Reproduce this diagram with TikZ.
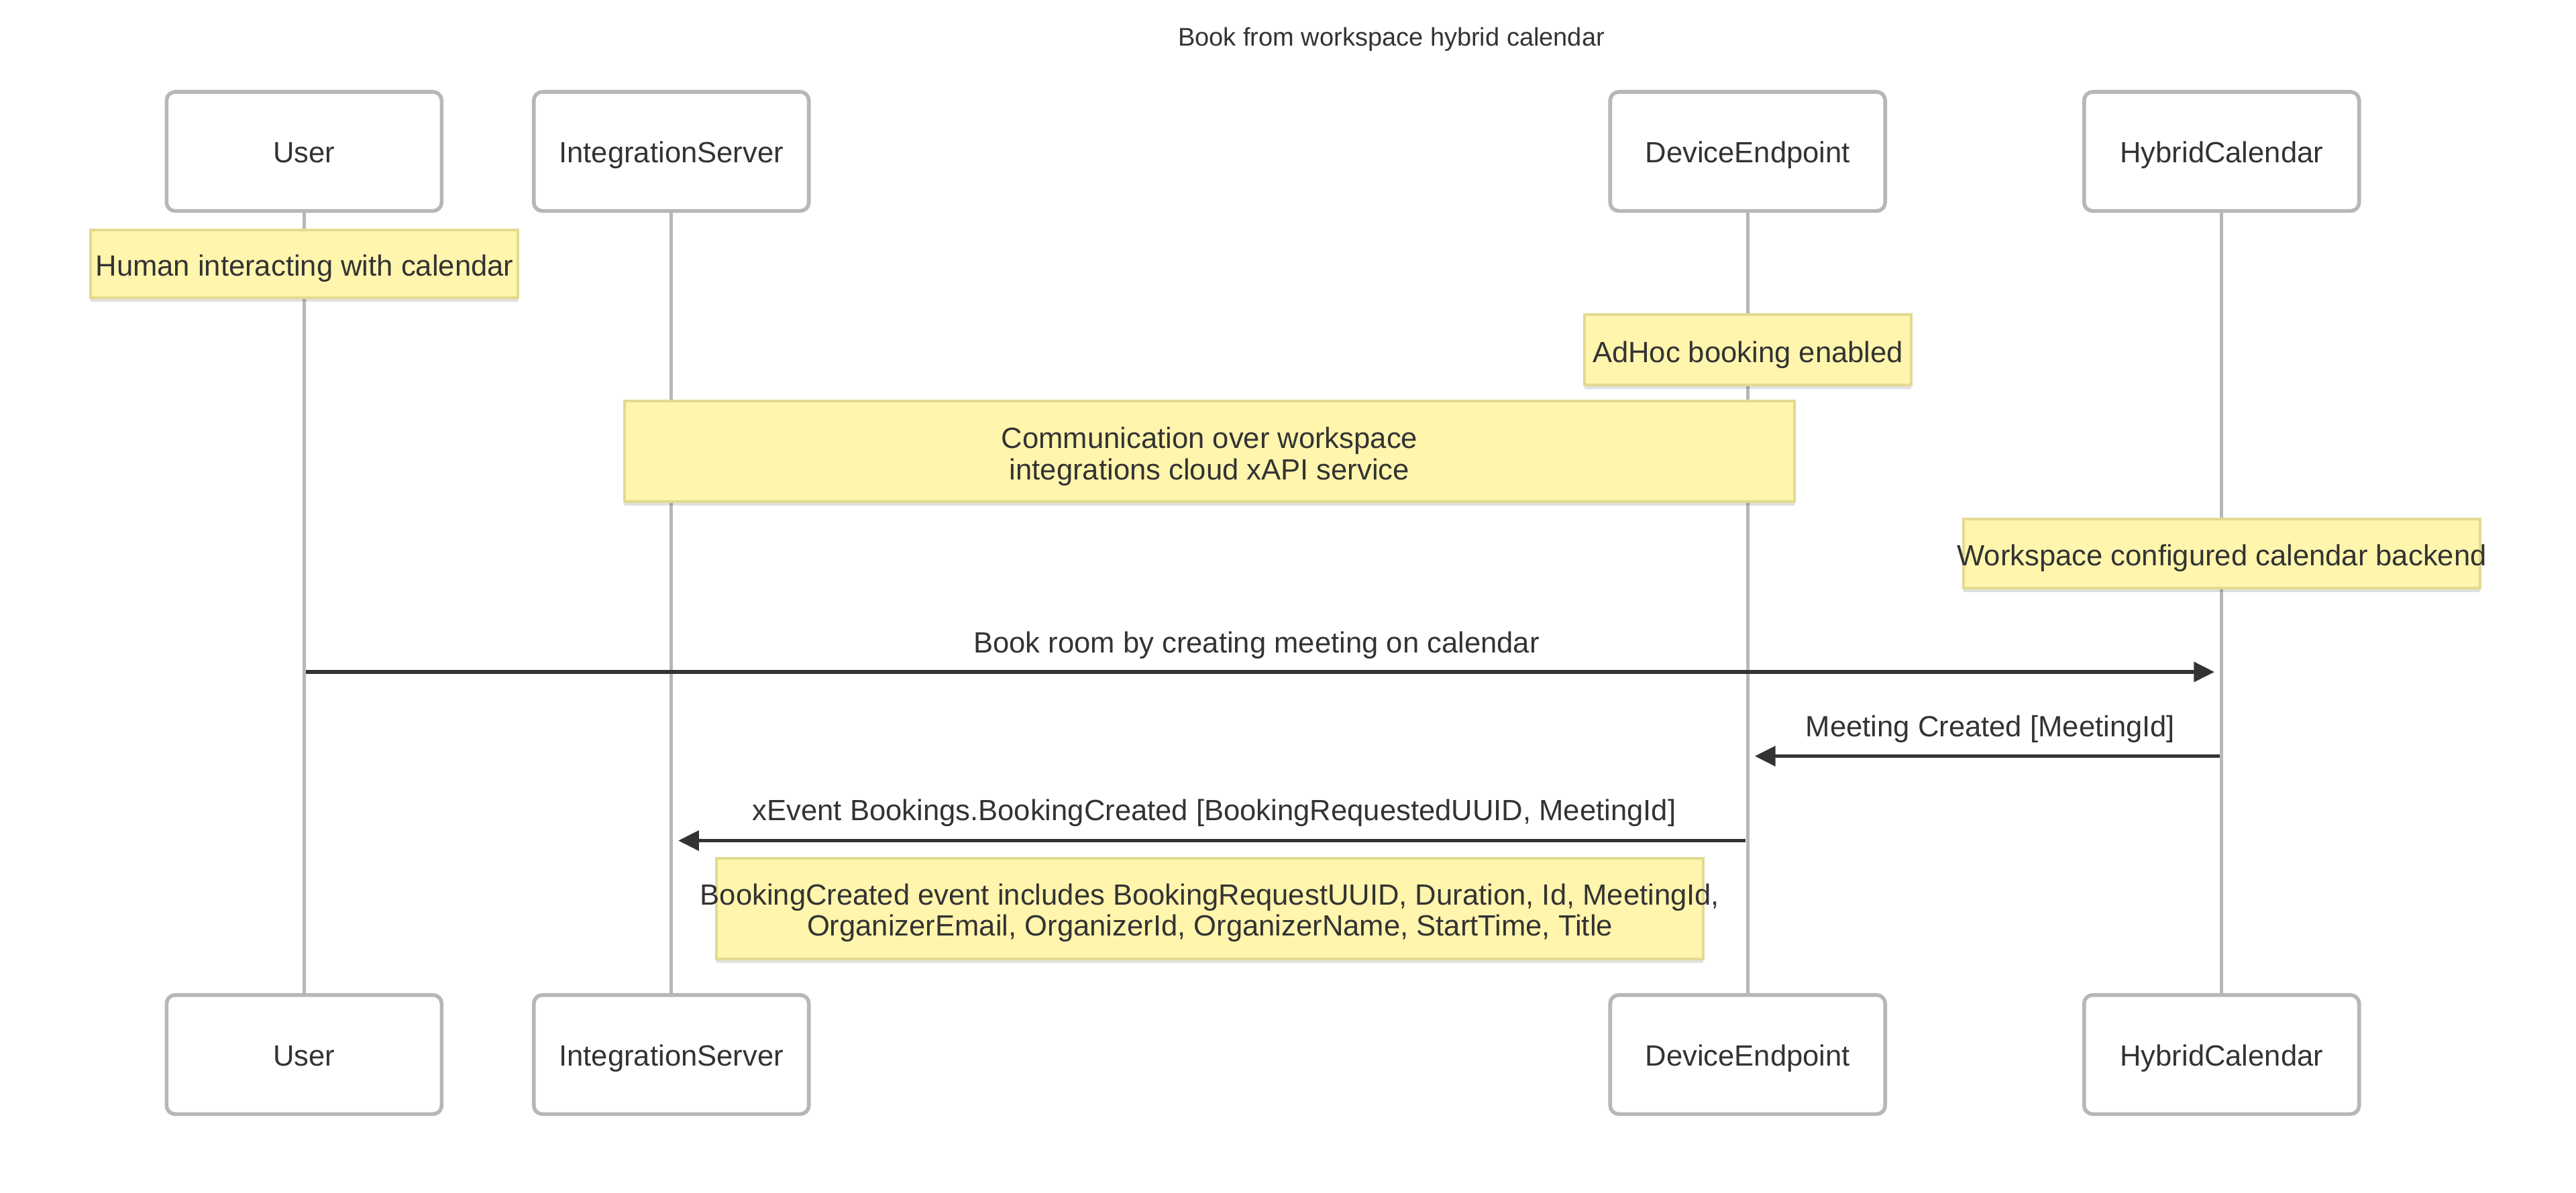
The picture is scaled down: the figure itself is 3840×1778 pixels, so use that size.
\documentclass[tikz,border=0pt]{standalone}
\usepackage{fontspec}
\setmainfont{Liberation Sans}
\usetikzlibrary{arrows.meta,shadows}
\definecolor{txt}{HTML}{333333}
\definecolor{actline}{HTML}{B7B7B7}
\definecolor{notefill}{HTML}{FFF5AD}
\definecolor{noteline}{HTML}{E2DA90}
\begin{document}
\begin{tikzpicture}[x=0.25pt,y=-0.25pt,
 every node/.style={text=txt, font=\fontsize{10.9pt}{11.8pt}\selectfont, inner sep=0pt},
 txtnode/.style={anchor=base},
 actorbox/.style={draw=actline, line width=1.4pt, fill=white, rounded corners=3.2pt, minimum width=102.5pt, minimum height=44.4pt},
 notebox/.style={draw=noteline, line width=1pt, fill=notefill, drop shadow={shadow xshift=0pt, shadow yshift=-1.5pt, opacity=0.12, fill=black}},
 lifeline/.style={draw=actline, line width=1.3pt},
 msg/.style={draw=txt, line width=1.4pt, -{Triangle[length=7.7pt,width=7.3pt]}}]
\useasboundingbox (0,0) rectangle (3840,1778);
\node[txtnode] (title) at (2074,68) {\fontsize{9.5pt}{11pt}\selectfont Book from workspace hybrid calendar};
% actors top
\node[actorbox] (uT) at (453.3,225.8) {};
\node[actorbox] (iT) at (1000.7,225.8) {};
\node[actorbox] (dT) at (2605.2,225.8) {};
\node[actorbox] (hT) at (3311.7,225.8) {};
\node[txtnode] (uTt) at (453.3,242) {User};
\node[txtnode] (iTt) at (1000.7,242) {IntegrationServer};
\node[txtnode] (dTt) at (2605.2,242) {DeviceEndpoint};
\node[txtnode] (hTt) at (3311.7,242) {HybridCalendar};
% actors bottom
\node[actorbox] (uB) at (453.3,1572.5) {};
\node[actorbox] (iB) at (1000.7,1572.5) {};
\node[actorbox] (dB) at (2605.2,1572.5) {};
\node[actorbox] (hB) at (3311.7,1572.5) {};
\node[txtnode] (uBt) at (453.3,1589) {User};
\node[txtnode] (iBt) at (1000.7,1589) {IntegrationServer};
\node[txtnode] (dBt) at (2605.2,1589) {DeviceEndpoint};
\node[txtnode] (hBt) at (3311.7,1589) {HybridCalendar};
% lifelines
\draw[lifeline] (uT.south) -- (uB.north);
\draw[lifeline] (iT.south) -- (iB.north);
\draw[lifeline] (dT.south) -- (dB.north);
\draw[lifeline] (hT.south) -- (hB.north);
% notes
\node[notebox, minimum width=159.25pt, minimum height=25.25pt] (n1) at (453.5,393.5) {};
\node[txtnode] (n1t) at (454,411.5) {Human interacting with calendar};
\node[notebox, minimum width=121.75pt, minimum height=26.25pt] (n2) at (2605.5,521.5) {};
\node[txtnode] (n2t) at (2605.5,540) {AdHoc booking enabled};
\node[notebox, minimum width=436pt, minimum height=37.5pt] (n3) at (1803,673) {};
\node[txtnode] (n3a) at (1803,668) {Communication over workspace};
\node[txtnode] (n3b) at (1803,715) {integrations cloud xAPI service};
\node[notebox, minimum width=192.5pt, minimum height=25.75pt] (n4) at (3312,825.5) {};
\node[txtnode] (n4t) at (3312,843.5) {Workspace configured calendar backend};
\node[notebox, minimum width=367.75pt, minimum height=37.5pt] (n5) at (1803.5,1355) {};
\node[txtnode] (n5a) at (1803.5,1349) {BookingCreated event includes BookingRequestUUID, Duration, Id, MeetingId,};
\node[txtnode] (n5b) at (1803.5,1395) {OrganizerEmail, OrganizerId, OrganizerName, StartTime, Title};
% messages
\coordinate (m1s) at (456,1002);
\coordinate (m1e) at (3301,1002);
\draw[msg] (m1s) -- (m1e);
\node[txtnode] (l1) at (1873,973.5) {Book room by creating meeting on calendar};
\coordinate (m2s) at (3309,1127.5);
\coordinate (m2e) at (2615.7,1127.5);
\draw[msg] (m2s) -- (m2e);
\node[txtnode] (l2) at (2967,1098) {Meeting Created [MeetingId]};
\coordinate (m3s) at (2602,1253.5);
\coordinate (m3e) at (1011,1253.5);
\draw[msg] (m3s) -- (m3e);
\node[txtnode] (l3) at (1810,1223) {xEvent Bookings.BookingCreated [BookingRequestedUUID, MeetingId]};
\end{tikzpicture}
\end{document}
